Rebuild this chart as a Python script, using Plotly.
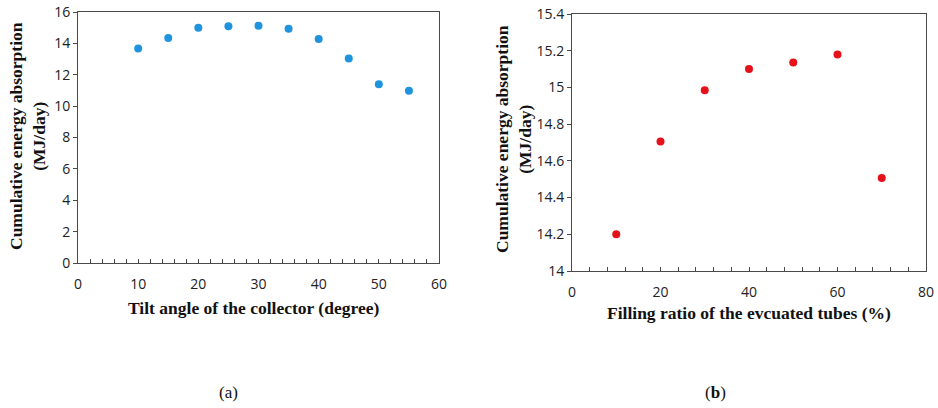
import plotly.graph_objects as go

# Data
tilt_angle = [10, 15, 20, 25, 30, 35, 40, 45, 50, 55]
energy_tilt = [13.67, 14.35, 15.0, 15.09, 15.13, 14.94, 14.28, 13.03, 11.40, 10.98]

filling_ratio = [10, 20, 30, 40, 50, 60, 70]
energy_filling = [14.20, 14.705, 14.985, 15.10, 15.136, 15.18, 14.506]

W, H = 938, 408
fig = go.Figure()

fig.add_trace(go.Scatter(x=tilt_angle, y=energy_tilt, mode="markers",
                         marker=dict(color="#1f93dd", size=8), xaxis="x", yaxis="y",
                         showlegend=False))
fig.add_trace(go.Scatter(x=filling_ratio, y=energy_filling, mode="markers",
                         marker=dict(color="#e5121b", size=8), xaxis="x2", yaxis="y2",
                         showlegend=False))

tickfont = dict(family="Open Sans, Liberation Sans, sans-serif", size=14, color="#222")
linecol = "#4a4a4a"

def px_x(v):
    return v / W

def px_y(v):
    return 1 - v / H

# left plot area: x 78-439, y 12-263
# right plot area: x 572-926, y 14-271
common_x = dict(showgrid=False, zeroline=False, showline=True, linecolor=linecol, linewidth=1,
                mirror=True, ticks="inside", ticklen=4, tickcolor=linecol, tickfont=tickfont,
                ticklabelstandoff=8, automargin=False)
common_y = dict(showgrid=False, zeroline=False, showline=True, linecolor=linecol, linewidth=1,
                mirror=True, ticks="outside", ticklen=4, tickcolor=linecol, tickfont=tickfont,
                automargin=False)

fig.update_layout(
    width=W, height=H,
    margin=dict(l=0, r=0, t=0, b=0, pad=0, autoexpand=False),
    paper_bgcolor="white", plot_bgcolor="white",
    xaxis=dict(domain=[px_x(78), px_x(439)], range=[0, 60], dtick=10, anchor="y",
               minor=dict(dtick=2, ticks="inside", ticklen=4, tickcolor=linecol), **common_x),
    yaxis=dict(domain=[px_y(263), px_y(12)], range=[0, 16], dtick=2, anchor="x", **common_y),
    xaxis2=dict(domain=[px_x(572), px_x(926)], range=[0, 80], dtick=20, anchor="y2",
                minor=dict(dtick=4, ticks="inside", ticklen=4, tickcolor=linecol), **common_x),
    yaxis2=dict(domain=[px_y(271), px_y(14)], range=[14, 15.4], dtick=0.2, anchor="x2",
                tickformat="~g", **common_y),
)

titlefont = dict(family="Liberation Serif, Times New Roman, serif", size=17.5, color="#111")

annots = [
    dict(x=px_x(253), y=px_y(308), text="<b>Tilt angle of the collector (degree)</b>"),
    dict(x=px_x(749), y=px_y(313), text="<b>Filling ratio of the evcuated tubes (%)</b>"),
    dict(x=px_x(28), y=px_y(136), text="<b>Cumulative energy absorption<br>(MJ/day)</b>", textangle=-90),
    dict(x=px_x(513), y=px_y(139), text="<b>Cumulative energy absorption<br>(MJ/day)</b>", textangle=-90),
]
for a in annots:
    fig.add_annotation(xref="paper", yref="paper", showarrow=False, font=titlefont,
                       xanchor="center", yanchor="middle", **a)

capfont = dict(family="Liberation Serif, Times New Roman, serif", size=17, color="#111")
fig.add_annotation(xref="paper", yref="paper", x=px_x(228), y=px_y(392), text="(a)",
                   showarrow=False, font=capfont, xanchor="center", yanchor="middle")
fig.add_annotation(xref="paper", yref="paper", x=px_x(715), y=px_y(392), text="(<b>b</b>)",
                   showarrow=False, font=capfont, xanchor="center", yanchor="middle")

fig.write_html("out.html", config={"displayModeBar": False},
               post_script="document.body.style.margin='0';")
